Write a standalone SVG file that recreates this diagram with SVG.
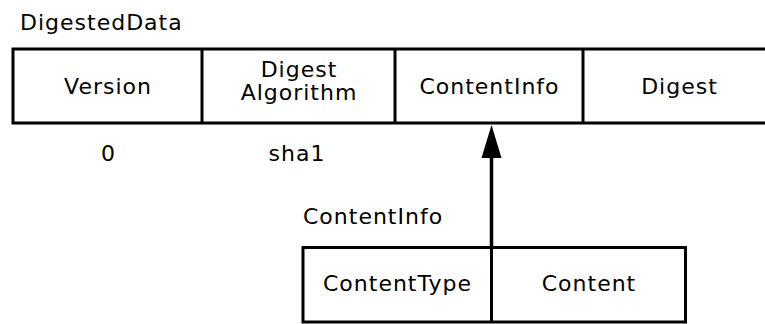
<svg xmlns="http://www.w3.org/2000/svg" width="765" height="324" viewBox="0 0 765 324">
  <style>
    text { font-family: "DejaVu Sans", "Liberation Sans", sans-serif; font-size: 22px; fill: #000; letter-spacing: 1px; }
    .c { text-anchor: middle; }
    .box { fill: #fff; stroke: #000; stroke-width: 3; }
    .div { stroke: #000; stroke-width: 3; }
    .conn { stroke: #000; stroke-width: 3.5; fill: none; }
    .head { fill: #000; }
  </style>
  <rect width="765" height="324" fill="#fff"/>

  <!-- DigestedData structure -->
  <g id="digested-data">
    <text x="20" y="30">DigestedData</text>
    <rect class="box" x="13" y="49" width="780" height="74"/>
    <line class="div" x1="202" y1="49" x2="202" y2="123"/>
    <line class="div" x1="395" y1="49" x2="395" y2="123"/>
    <line class="div" x1="583" y1="49" x2="583" y2="123"/>
  </g>
  <g id="field-version">
    <text class="c" x="108" y="94">Version</text>
    <text class="c" x="108.5" y="161">0</text>
  </g>
  <g id="field-digest-algorithm">
    <text class="c" x="299" y="77">Digest</text>
    <text class="c" x="299" y="100">Algorithm</text>
    <text class="c" x="297" y="161">sha1</text>
  </g>
  <g id="field-content-info">
    <text class="c" x="489.5" y="94">ContentInfo</text>
  </g>
  <g id="field-digest">
    <text class="c" x="679.5" y="94">Digest</text>
  </g>

  <!-- ContentInfo structure -->
  <g id="content-info">
    <text x="303" y="224">ContentInfo</text>
    <rect class="box" x="303" y="247.5" width="382.5" height="74.5"/>
    <line class="div" x1="491.5" y1="247.5" x2="491.5" y2="322"/>
    <text class="c" x="397.5" y="291">ContentType</text>
    <text class="c" x="589" y="291">Content</text>
  </g>

  <!-- Connectors -->
  <g id="connectors">
    <line class="conn" x1="491.5" y1="247" x2="491.5" y2="158"/>
    <polygon class="head" points="491.5,125 481.5,158 501.5,158"/>
  </g>
</svg>
